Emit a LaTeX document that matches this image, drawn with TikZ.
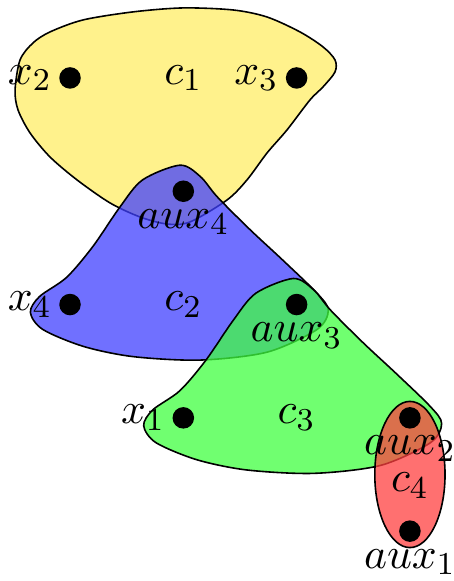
\documentclass[11pt,tikz,border=0pt]{standalone}
\usepackage{xcolor}
\usepackage{tikz}
\definecolor{EdgeYellow}{RGB}{255,238,102}

\begin{document}
\begin{tikzpicture}[
            dot/.style={circle, fill=black, inner sep=0pt, minimum size=0.19cm},
            lbl/.style={inner sep=0pt, label distance=1.5pt},
            hedge/.style={draw=black, fill opacity=0.75}
        ]
            \useasboundingbox (-0.618,-4.44) rectangle (3.389,0.688);

            % hyperedges
            \draw[hedge, fill=EdgeYellow] plot[smooth cycle] coordinates {
                (-0.485,-0.106) (-0.441,0.159) (-0.327,0.309) (-0.177,0.406)
                (0.115,0.512) (0.556,0.583) (0.997,0.618) (1.439,0.6) (1.739,0.538)
                (2.03,0.406) (2.233,0.274) (2.339,0.159) (2.339,0.053) (2.233,-0.079)
                (2.118,-0.194) (1.915,-0.459) (1.739,-0.662) (1.562,-0.9) (1.386,-1.077)
                (1.059,-1.271) (0.856,-1.289) (0.618,-1.227) (0.353,-1.103) (0.062,-0.9)
                (-0.177,-0.697) (-0.353,-0.485) (-0.459,-0.282)};

            \foreach \col/\dx/\dy in {blue!75/0/0, green!75/1/-1}
                \draw[hedge, fill=\col, shift={(\dx,\dy)}] plot[smooth cycle] coordinates {
                    (0.97,-0.77) (1.15,-0.87) (1.3,-1.05) (1.59,-1.34) (1.88,-1.61)
                    (2.18,-1.9) (2.28,-2.05) (2.18,-2.22) (1.74,-2.42) (1.15,-2.49)
                    (0.56,-2.46) (0.12,-2.37) (-0.24,-2.22) (-0.35,-2.07) (-0.27,-1.93)
                    (-0.03,-1.76) (0.2,-1.49) (0.44,-1.14) (0.64,-0.9)};

            \draw[hedge, fill=red!75] (3,-3.5) ellipse (0.31 and 0.645);

            % vertices
            \node[dot, label={[lbl]left:$x_2$}] (x2) at (0,0) {};
            \node[dot, label={[lbl]left:$x_3$}] (x3) at (2,0) {};
            \node[dot, label={[lbl]below:$aux_4$}] (aux4) at (1,-1) {};
            \node[dot, label={[lbl]left:$x_4$}] (x4) at (0,-2) {};
            \node[dot, label={[lbl]below:$aux_3$}] (aux3) at (2,-2) {};
            \node[dot, label={[lbl]left:$x_1$}] (x1) at (1,-3) {};
            \node[dot, label={[lbl]below:$aux_2$}] (aux2) at (3,-3) {};
            \node[dot, label={[lbl]below:$aux_1$}] (aux1) at (3,-4) {};

            \node (c1) at (1,0) {$c_1$};
            \node (c2) at (1,-2) {$c_2$};
            \node (c3) at (2,-3) {$c_3$};
            \node (c4) at (3,-3.6) {$c_4$};

        \end{tikzpicture}
\end{document}
